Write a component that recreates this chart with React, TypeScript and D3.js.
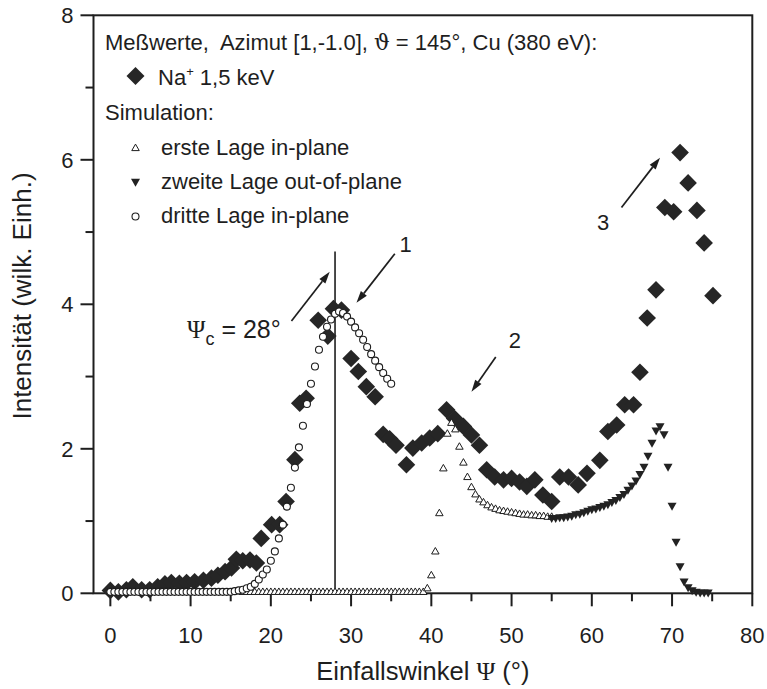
import React from "react";
import * as d3 from "d3";

// Measured data: Na+ 1,5 keV (diamonds)
const measPsi = [0, 1, 2, 2.8, 3.9, 4.9, 5.9, 6.8, 7.6, 8.6, 9.5, 10.5, 11.6, 12.6, 13.4, 14.3, 15.1, 15.7, 16.5, 17.4, 18.2, 18.8, 20.1, 21.1, 21.9, 23.0, 23.6, 24.4, 25.9, 27.1, 27.8, 28.8, 30.0, 30.9, 31.9, 33.0, 34.0, 34.8, 35.6, 36.9, 37.7, 38.8, 39.8, 40.8, 41.9, 42.9, 44.0, 45.0, 46.0, 46.9, 47.9, 49.0, 50.0, 51.0, 51.9, 52.9, 53.9, 55.0, 56.0, 57.1, 58.3, 59.4, 61.0, 62.0, 63.1, 64.1, 65.2, 66.0, 66.9, 68.0, 69.1, 70.2, 71.0, 72.0, 73.1, 74.0, 75.1];
const measI = [0.04, 0.02, 0.05, 0.09, 0.05, 0.05, 0.09, 0.13, 0.15, 0.14, 0.15, 0.16, 0.18, 0.21, 0.25, 0.30, 0.35, 0.47, 0.45, 0.46, 0.42, 0.76, 0.95, 0.95, 1.27, 1.85, 2.63, 2.70, 3.78, 3.56, 3.94, 3.92, 3.25, 3.07, 2.86, 2.72, 2.20, 2.14, 2.05, 1.78, 2.01, 2.08, 2.15, 2.21, 2.54, 2.42, 2.31, 2.19, 2.05, 1.71, 1.61, 1.57, 1.59, 1.54, 1.48, 1.57, 1.36, 1.27, 1.61, 1.61, 1.50, 1.66, 1.84, 2.24, 2.33, 2.61, 2.61, 3.06, 3.81, 4.20, 5.34, 5.28, 6.10, 5.68, 5.30, 4.85, 4.12];

// Simulation: erste Lage in-plane (open triangles)
const firstPsi = [16.5, 17, 17.5, 18, 18.5, 19, 19.5, 20, 20.5, 21, 21.5, 22, 22.5, 23, 23.5, 24, 24.5, 25, 25.5, 26, 26.5, 27, 27.5, 28, 28.5, 29, 29.5, 30, 30.5, 31, 31.5, 32, 32.5, 33, 33.5, 34, 34.5, 35, 35.5, 36, 36.5, 37, 37.5, 38, 38.5, 39, 39.5, 40, 40.5, 41, 41.5, 42, 42.5, 43, 43.5, 44, 44.5, 45, 45.5, 46, 46.5, 47, 47.5, 48, 48.5, 49, 49.5, 50, 50.5, 51, 51.5, 52, 52.5, 53, 53.5, 54, 54.5, 55];
const firstI = [0.02, 0.02, 0.02, 0.02, 0.02, 0.02, 0.02, 0.02, 0.02, 0.02, 0.02, 0.02, 0.02, 0.02, 0.02, 0.02, 0.02, 0.02, 0.02, 0.02, 0.02, 0.02, 0.02, 0.02, 0.02, 0.02, 0.02, 0.02, 0.02, 0.02, 0.02, 0.02, 0.02, 0.02, 0.02, 0.02, 0.02, 0.02, 0.02, 0.02, 0.02, 0.02, 0.02, 0.02, 0.02, 0.02, 0.07, 0.25, 0.58, 1.11, 1.73, 2.21, 2.36, 2.27, 2.03, 1.81, 1.61, 1.47, 1.37, 1.30, 1.26, 1.22, 1.19, 1.17, 1.15, 1.14, 1.13, 1.12, 1.11, 1.10, 1.09, 1.09, 1.08, 1.08, 1.07, 1.07, 1.06, 1.06];

// Simulation: zweite Lage out-of-plane (filled down triangles)
const secondPsi = [55, 55.5, 56, 56.5, 57, 57.5, 58, 58.5, 59, 59.5, 60, 60.5, 61, 61.5, 62, 62.5, 63, 63.5, 64, 64.5, 65, 65.5, 66, 66.5, 67, 67.5, 68, 68.5, 69, 69.5, 70, 70.5, 71, 71.5, 72, 72.5, 73, 73.5, 74, 74.5];
const secondI = [1.04, 1.04, 1.05, 1.05, 1.06, 1.07, 1.09, 1.10, 1.12, 1.14, 1.16, 1.17, 1.19, 1.21, 1.23, 1.26, 1.29, 1.33, 1.37, 1.43, 1.49, 1.56, 1.65, 1.75, 1.90, 2.08, 2.25, 2.31, 2.20, 1.75, 1.21, 0.71, 0.37, 0.16, 0.08, 0.04, 0.02, 0.01, 0.01, 0.01];

// Simulation: dritte Lage in-plane (open circles)
const thirdPsi = [0, 0.5, 1, 1.5, 2, 2.5, 3, 3.5, 4, 4.5, 5, 5.5, 6, 6.5, 7, 7.5, 8, 8.5, 9, 9.5, 10, 10.5, 11, 11.5, 12, 12.5, 13, 13.5, 14, 14.5, 15, 15.5, 16, 16.5, 17, 17.5, 18, 18.5, 19, 19.5, 20, 20.5, 21, 21.5, 22, 22.5, 23, 23.5, 24, 24.5, 25, 25.5, 26, 26.5, 27, 27.5, 28, 28.5, 29, 29.5, 30, 30.5, 31, 31.5, 32, 32.5, 33, 33.5, 34, 34.5, 35];
const thirdI = [0.02, 0.02, 0.02, 0.02, 0.02, 0.02, 0.02, 0.02, 0.02, 0.02, 0.02, 0.02, 0.02, 0.02, 0.02, 0.02, 0.02, 0.02, 0.02, 0.02, 0.02, 0.02, 0.02, 0.02, 0.02, 0.02, 0.02, 0.02, 0.02, 0.02, 0.02, 0.03, 0.04, 0.05, 0.07, 0.09, 0.13, 0.19, 0.26, 0.33, 0.45, 0.58, 0.76, 0.95, 1.20, 1.46, 1.74, 2.02, 2.32, 2.62, 2.90, 3.14, 3.37, 3.55, 3.69, 3.79, 3.87, 3.90, 3.88, 3.83, 3.76, 3.68, 3.60, 3.51, 3.41, 3.31, 3.22, 3.13, 3.05, 2.97, 2.90];

const xTicks = [0, 10, 20, 30, 40, 50, 60, 70, 80];
const xMinor = [5, 15, 25, 35, 45, 55, 65, 75];
const yTicks = [0, 2, 4, 6, 8];
const yMinor = [1, 3, 5, 7];

const psiCritical = 28;
const psiCriticalTop = 4.73;

// annotation arrows: [tailPsi, tailI, headPsi, headI]
const arrows = [
  [22.57, 3.77, 27.34, 4.45],
  [35.45, 4.70, 30.67, 4.02],
  [48.03, 3.27, 45.0, 2.79],
  [63.7, 5.34, 68.5, 6.03],
];
const arrowLabels = [
  { text: "1", psi: 36.8, I: 4.72 },
  { text: "2", psi: 50.4, I: 3.39 },
  { text: "3", psi: 61.4, I: 5.03 },
];

const W = 767, H = 689;
const L = 93.5, R = 752.3, T = 15.3, B = 593.3;
const FONT = "'Liberation Sans', Arial, Helvetica, sans-serif";
const INK = "#1e1e1e";

const x = d3.scaleLinear().domain([-2.1, 80]).range([L, R]);
const y = d3.scaleLinear().domain([0, 8]).range([B, T]);

const diamondPath = (s: number) => `M0,${-s}L${s},0L0,${s}L${-s},0Z`;
const triUp = (w: number, h: number) => `M0,${-h * 0.6}L${w / 2},${h * 0.4}L${-w / 2},${h * 0.4}Z`;
const triDown = (w: number, h: number) => `M0,${h * 0.6}L${w / 2},${-h * 0.4}L${-w / 2},${-h * 0.4}Z`;

function Arrow({ a }: { a: number[] }) {
  const x1 = x(a[0]), y1 = y(a[1]), x2 = x(a[2]), y2 = y(a[3]);
  const ang = Math.atan2(y2 - y1, x2 - x1);
  const len = 12, wid = 3.8;
  const bx = x2 - len * Math.cos(ang), by = y2 - len * Math.sin(ang);
  const px = -Math.sin(ang) * wid, py = Math.cos(ang) * wid;
  return (
    <g>
      <line x1={x1} y1={y1} x2={bx} y2={by} stroke={INK} strokeWidth={1.7} />
      <path d={`M${x2},${y2}L${bx + px},${by + py}L${bx - px},${by - py}Z`} fill={INK} />
    </g>
  );
}

export default function App() {
  const legendX = 105;
  const markerX = 135.5;
  const textX = 161;
  const LF = 22;
  return (
    <svg width={W} height={H} style={{ position: "absolute", left: 0, top: 0, background: "#fff" }} fontFamily={FONT}>
      <rect width={W} height={H} fill="#fff" />
      {/* frame */}
      <rect x={L} y={T} width={R - L} height={B - T} fill="none" stroke={INK} strokeWidth={2} />
      {/* x ticks */}
      {xTicks.map((t) => (
        <g key={"xt" + t}>
          <line x1={x(t)} x2={x(t)} y1={B} y2={B + 13} stroke={INK} strokeWidth={2} />
          <text x={x(t)} y={B + 50} textAnchor="middle" fontSize={22} fill={INK}>{t}</text>
        </g>
      ))}
      {xMinor.map((t) => (
        <line key={"xm" + t} x1={x(t)} x2={x(t)} y1={B} y2={B + 8} stroke={INK} strokeWidth={2} />
      ))}
      {/* y ticks */}
      {yTicks.map((t) => (
        <g key={"yt" + t}>
          <line x1={L - 13} x2={L} y1={y(t)} y2={y(t)} stroke={INK} strokeWidth={2} />
          <text x={L - 20} y={y(t) + 8} textAnchor="end" fontSize={22} fill={INK}>{t}</text>
        </g>
      ))}
      {yMinor.map((t) => (
        <line key={"ym" + t} x1={L - 8} x2={L} y1={y(t)} y2={y(t)} stroke={INK} strokeWidth={2} />
      ))}
      {/* axis titles */}
      <text x={(L + R) / 2} y={680} textAnchor="middle" fontSize={25.5} fill={INK}>
        Einfallswinkel <tspan fontFamily="'Liberation Serif', 'DejaVu Serif', serif">Ψ</tspan> (°)
      </text>
      <text transform={`translate(31, 296) rotate(-90)`} textAnchor="middle" fontSize={26} fill={INK}>
        Intensität (wilk. Einh.)
      </text>

      {/* critical angle line */}
      <line x1={x(psiCritical)} x2={x(psiCritical)} y1={y(0)} y2={y(psiCriticalTop)} stroke={INK} strokeWidth={1.6} />

      {/* measured diamonds */}
      {measPsi.map((p, i) => (
        <path key={"m" + i} d={diamondPath(8.8)} transform={`translate(${x(p)},${y(measI[i])})`} fill="#262626" />
      ))}
      {/* first layer triangles */}
      {firstPsi.map((p, i) => (
        <path key={"f" + i} d={triUp(7.5, 6.5)} transform={`translate(${x(p)},${y(firstI[i])})`} fill="#fff" stroke={INK} strokeWidth={1} />
      ))}
      {/* second layer down triangles */}
      {secondPsi.map((p, i) => (
        <path key={"s" + i} d={triDown(9, 8)} transform={`translate(${x(p)},${y(secondI[i])})`} fill="#222" />
      ))}
      {/* third layer circles */}
      {thirdPsi.map((p, i) => (
        <circle key={"t" + i} cx={x(p)} cy={y(thirdI[i])} r={3.5} fill="#fff" stroke={INK} strokeWidth={1.1} />
      ))}

      {/* annotations */}
      {arrows.map((a, i) => <Arrow key={"a" + i} a={a} />)}
      {arrowLabels.map((l) => (
        <text key={l.text} x={x(l.psi)} y={y(l.I)} textAnchor="middle" fontSize={22} fill={INK}>{l.text}</text>
      ))}
      <text x={187} y={338} fontSize={25} fill={INK}>
        <tspan fontFamily="'Liberation Serif', 'DejaVu Serif', serif">Ψ</tspan>
        <tspan fontSize={18} dy={7}>c</tspan>
        <tspan dy={-7}> = 28°</tspan>
      </text>

      {/* legend */}
      <text x={legendX} y={50} fontSize={LF} fill={INK}>
        {"Meßwerte,\u00a0 Azimut [1,-1.0], "}<tspan fontFamily="'DejaVu Serif', serif">ϑ</tspan>{" = 145°, Cu (380 eV):"}
      </text>
      <path d={diamondPath(9)} transform={`translate(${markerX},76)`} fill="#262626" />
      <text x={158} y={85} fontSize={LF} fill={INK}>
        Na<tspan fontSize={13} dy={-9}>+</tspan><tspan dy={9}> 1,5 keV</tspan>
      </text>
      <text x={legendX} y={120} fontSize={LF} fill={INK}>Simulation:</text>
      <path d={triUp(7.5, 6.5)} transform={`translate(${markerX},148)`} fill="#fff" stroke={INK} strokeWidth={1} />
      <text x={textX} y={155} fontSize={LF} fill={INK}>erste Lage in-plane</text>
      <path d={triDown(9, 8)} transform={`translate(${markerX},182)`} fill="#222" />
      <text x={textX} y={189} fontSize={LF} fill={INK}>zweite Lage out-of-plane</text>
      <circle cx={markerX} cy={216.5} r={3.5} fill="#fff" stroke={INK} strokeWidth={1.1} />
      <text x={textX} y={223} fontSize={LF} fill={INK}>dritte Lage in-plane</text>
    </svg>
  );
}
